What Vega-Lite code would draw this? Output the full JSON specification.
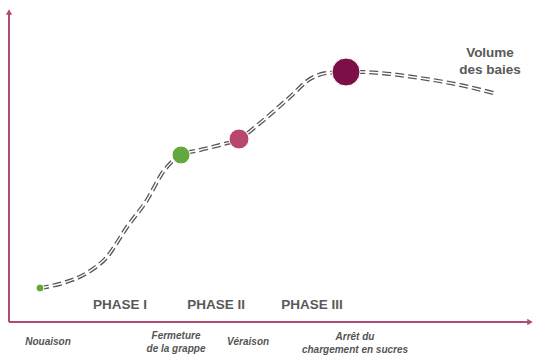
{
  "$schema": "https://vega.github.io/schema/vega-lite/v6.json",
  "width": 540,
  "height": 364,
  "autosize": {"type": "none"},
  "padding": 0,
  "background": "white",
  "config": {"view": {"stroke": null}, "font": "Liberation Sans"},
  "datasets": {
    "curve": [
      {"t": 40, "v": 76}, {"t": 63, "v": 81}, {"t": 87, "v": 91}, {"t": 107, "v": 107},
      {"t": 127, "v": 137}, {"t": 147, "v": 164}, {"t": 163, "v": 192}, {"t": 181, "v": 209},
      {"t": 200, "v": 214}, {"t": 220, "v": 219}, {"t": 239, "v": 225}, {"t": 260, "v": 241},
      {"t": 290, "v": 267}, {"t": 310, "v": 285}, {"t": 327, "v": 291}, {"t": 346, "v": 292},
      {"t": 363, "v": 292}, {"t": 380, "v": 291}, {"t": 420, "v": 286}, {"t": 460, "v": 279},
      {"t": 497, "v": 270}
    ],
    "stages": [
      {"t": 40, "v": 76, "stage": "Nouaison", "s": 64},
      {"t": 181, "v": 209, "stage": "Fermeture", "s": 324},
      {"t": 239, "v": 225, "stage": "Véraison", "s": 400},
      {"t": 346, "v": 292, "stage": "Arrêt", "s": 784}
    ],
    "axes": [
      {"t": 9, "v": 42, "t2": 9, "v2": 350},
      {"t": 9, "v": 42, "t2": 528, "v2": 42}
    ],
    "arrows": [
      {"t": 9, "v": 352, "shape": "triangle-up"},
      {"t": 530, "v": 42, "shape": "triangle-right"}
    ],
    "phases": [
      {"t": 120, "v": 59, "label": "PHASE I"},
      {"t": 216, "v": 59, "label": "PHASE II"},
      {"t": 312, "v": 59, "label": "PHASE III"},
      {"t": 490, "v": 311, "label": "Volume"},
      {"t": 490, "v": 294, "label": "des baies"}
    ],
    "events": [
      {"t": 48, "v": 22, "label": "Nouaison"},
      {"t": 176, "v": 28, "label": "Fermeture"},
      {"t": 176, "v": 15, "label": "de la grappe"},
      {"t": 248, "v": 22, "label": "Véraison"},
      {"t": 355, "v": 27, "label": "Arrêt du"},
      {"t": 355, "v": 14, "label": "chargement en sucres"}
    ]
  },
  "layer": [
    {
      "data": {"name": "axes"},
      "mark": {"type": "rule", "color": "#b04a78", "strokeWidth": 2},
      "encoding": {
        "x": {"field": "t", "type": "quantitative", "scale": {"domain": [0, 540], "nice": false, "zero": false}, "axis": null},
        "y": {"field": "v", "type": "quantitative", "scale": {"domain": [0, 364], "nice": false, "zero": false}, "axis": null},
        "x2": {"field": "t2"},
        "y2": {"field": "v2"}
      }
    },
    {
      "data": {"name": "arrows"},
      "mark": {"type": "point", "filled": true, "color": "#b04a78", "opacity": 1},
      "encoding": {
        "x": {"field": "t", "type": "quantitative", "scale": {"domain": [0, 540], "nice": false, "zero": false}, "axis": null},
        "y": {"field": "v", "type": "quantitative", "scale": {"domain": [0, 364], "nice": false, "zero": false}, "axis": null},
        "shape": {"field": "shape", "type": "nominal", "scale": null},
        "size": {"value": 40}
      }
    },
    {
      "data": {"name": "curve"},
      "mark": {"type": "line", "interpolate": "monotone", "color": "#555555", "strokeWidth": 4, "strokeDash": [9, 4]},
      "encoding": {
        "x": {"field": "t", "type": "quantitative", "scale": {"domain": [0, 540], "nice": false, "zero": false}, "axis": null},
        "y": {"field": "v", "type": "quantitative", "scale": {"domain": [0, 364], "nice": false, "zero": false}, "axis": null}
      }
    },
    {
      "data": {"name": "curve"},
      "mark": {"type": "line", "interpolate": "monotone", "color": "white", "strokeWidth": 1.4},
      "encoding": {
        "x": {"field": "t", "type": "quantitative", "scale": {"domain": [0, 540], "nice": false, "zero": false}, "axis": null},
        "y": {"field": "v", "type": "quantitative", "scale": {"domain": [0, 364], "nice": false, "zero": false}, "axis": null}
      }
    },
    {
      "data": {"name": "stages"},
      "mark": {"type": "circle", "opacity": 1, "stroke": "white", "strokeWidth": 1},
      "encoding": {
        "x": {"field": "t", "type": "quantitative", "scale": {"domain": [0, 540], "nice": false, "zero": false}, "axis": null},
        "y": {"field": "v", "type": "quantitative", "scale": {"domain": [0, 364], "nice": false, "zero": false}, "axis": null},
        "size": {"field": "s", "type": "quantitative", "scale": null, "legend": null},
        "color": {"field": "stage", "type": "nominal", "legend": null,
          "scale": {"domain": ["Nouaison", "Fermeture", "Véraison", "Arrêt"], "range": ["#62a83c", "#62a83c", "#b9466e", "#7a1046"]}}
      }
    },
    {
      "data": {"name": "phases"},
      "mark": {"type": "text", "fontWeight": "bold", "fontSize": 13.5, "color": "#595959", "align": "center", "baseline": "middle"},
      "encoding": {
        "x": {"field": "t", "type": "quantitative", "scale": {"domain": [0, 540], "nice": false, "zero": false}, "axis": null},
        "y": {"field": "v", "type": "quantitative", "scale": {"domain": [0, 364], "nice": false, "zero": false}, "axis": null},
        "text": {"field": "label"}
      }
    },
    {
      "data": {"name": "events"},
      "mark": {"type": "text", "fontStyle": "italic", "fontWeight": "bold", "fontSize": 10, "color": "#555555", "align": "center", "baseline": "middle"},
      "encoding": {
        "x": {"field": "t", "type": "quantitative", "scale": {"domain": [0, 540], "nice": false, "zero": false}, "axis": null},
        "y": {"field": "v", "type": "quantitative", "scale": {"domain": [0, 364], "nice": false, "zero": false}, "axis": null},
        "text": {"field": "label"}
      }
    }
  ]
}
